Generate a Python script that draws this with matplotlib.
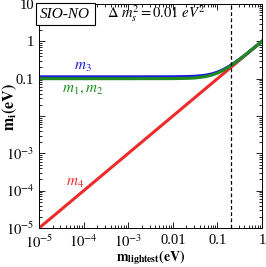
import numpy as np
import matplotlib
matplotlib.use('Agg')
import matplotlib.pyplot as plt
from matplotlib.ticker import LogLocator, NullFormatter, FixedLocator, FixedFormatter

plt.rcParams['font.family'] = ['Liberation Serif', 'DejaVu Serif']
plt.rcParams['mathtext.fontset'] = 'stix'

# values
m_lightest = [1e-5, 1e-4, 1e-3, 0.01, 0.02, 0.03, 0.04, 0.05, 0.06, 0.07, 0.08,
              0.1, 0.12, 0.15, 0.2, 0.25, 0.3, 0.4, 0.5, 0.7, 1.0]
m12 = [0.1, 0.1, 0.1, 0.1005, 0.102, 0.104, 0.108, 0.112, 0.117, 0.122, 0.128,
       0.141, 0.156, 0.18, 0.224, 0.269, 0.316, 0.412, 0.51, 0.707, 1.005]
m3 = [0.112, 0.112, 0.112, 0.1125, 0.114, 0.116, 0.119, 0.122, 0.127, 0.132, 0.137,
      0.15, 0.164, 0.187, 0.23, 0.274, 0.32, 0.415, 0.512, 0.709, 1.006]
m4_x = [1e-5, 1e-4, 1e-3, 0.01, 0.1, 1.0]
m4 = [1e-5, 1e-4, 1e-3, 0.01, 0.1, 1.0]
vline_x = 0.2

x_ticks = [1e-5, 1e-4, 1e-3, 1e-2, 0.1, 1]
x_labels = [r'$10^{-5}$', r'$10^{-4}$', r'$10^{-3}$', '0.01', '0.1', '1']
y_ticks = [1e-5, 1e-4, 1e-3, 1e-2, 0.1, 1, 10]
y_labels = [r'$10^{-5}$', r'$10^{-4}$', r'$10^{-3}$', '', '0.1', '1', '10']

fig = plt.figure(figsize=(2.66, 2.67), dpi=100)
ax = fig.add_axes([0.147, 0.146, 0.838, 0.839])

ax.plot(m4_x, m4, color='#ee2b2b', lw=2.2)
ax.plot(m_lightest, m3, color='#1a1adf', lw=2.2)
ax.plot(m_lightest, m12, color='#1e8c1e', lw=2.2)
ax.axvline(vline_x, color='black', ls='--', lw=0.9, dashes=(3, 2))

ax.set_xscale('log')
ax.set_yscale('log')
ax.set_xlim(1e-5, 1)
ax.set_ylim(1e-5, 10)

ax.xaxis.set_major_locator(FixedLocator(x_ticks))
ax.xaxis.set_major_formatter(FixedFormatter(x_labels))
ax.yaxis.set_major_locator(FixedLocator(y_ticks))
ax.yaxis.set_major_formatter(FixedFormatter(y_labels))
ax.xaxis.set_minor_locator(LogLocator(base=10, subs=np.arange(2, 10), numticks=20))
ax.yaxis.set_minor_locator(LogLocator(base=10, subs=np.arange(2, 10), numticks=20))
ax.xaxis.set_minor_formatter(NullFormatter())
ax.yaxis.set_minor_formatter(NullFormatter())
ax.tick_params(which='both', direction='in', top=True, right=True, labelsize=10.5, width=0.6)
ax.tick_params(which='major', length=4)
ax.tick_params(which='minor', length=2)
ax.tick_params(axis='x', pad=4)
for s in ax.spines.values():
    s.set_linewidth(0.7)

ax.set_xlabel(r'$\mathbf{m}_{\mathbf{lightest}}\mathbf{(eV)}$', fontsize=10, va='center')
ax.xaxis.set_label_coords(0.5, -0.133)
ax.set_ylabel(r'$\mathbf{m_i(eV)}$', fontsize=11.5, va='center')
ax.yaxis.set_label_coords(-0.13, 0.54)

ax.text(0.117, 0.955, 'SIO-NO', transform=ax.transAxes, fontsize=11, style='italic',
        ha='center', va='center',
        bbox=dict(boxstyle='square,pad=0.3', fc='white', ec='black', lw=0.8))
ax.text(0.305, 0.955, r'$\Delta\ m_s^2\mathit{=0.01\ eV}^2$', transform=ax.transAxes,
        fontsize=10.5, ha='left', va='center')
ax.text(0.197, 0.719, r'$m_3$', transform=ax.transAxes, color='#1a1adf',
        fontsize=11, ha='center', va='center')
ax.text(0.197, 0.62, r'$m_1,m_2$', transform=ax.transAxes, color='#1e8c1e',
        fontsize=11, ha='center', va='center')
ax.text(0.161, 0.201, r'$m_4$', transform=ax.transAxes, color='#ee2b2b',
        fontsize=11, ha='center', va='center')

fig.savefig('out.png', dpi=100)
